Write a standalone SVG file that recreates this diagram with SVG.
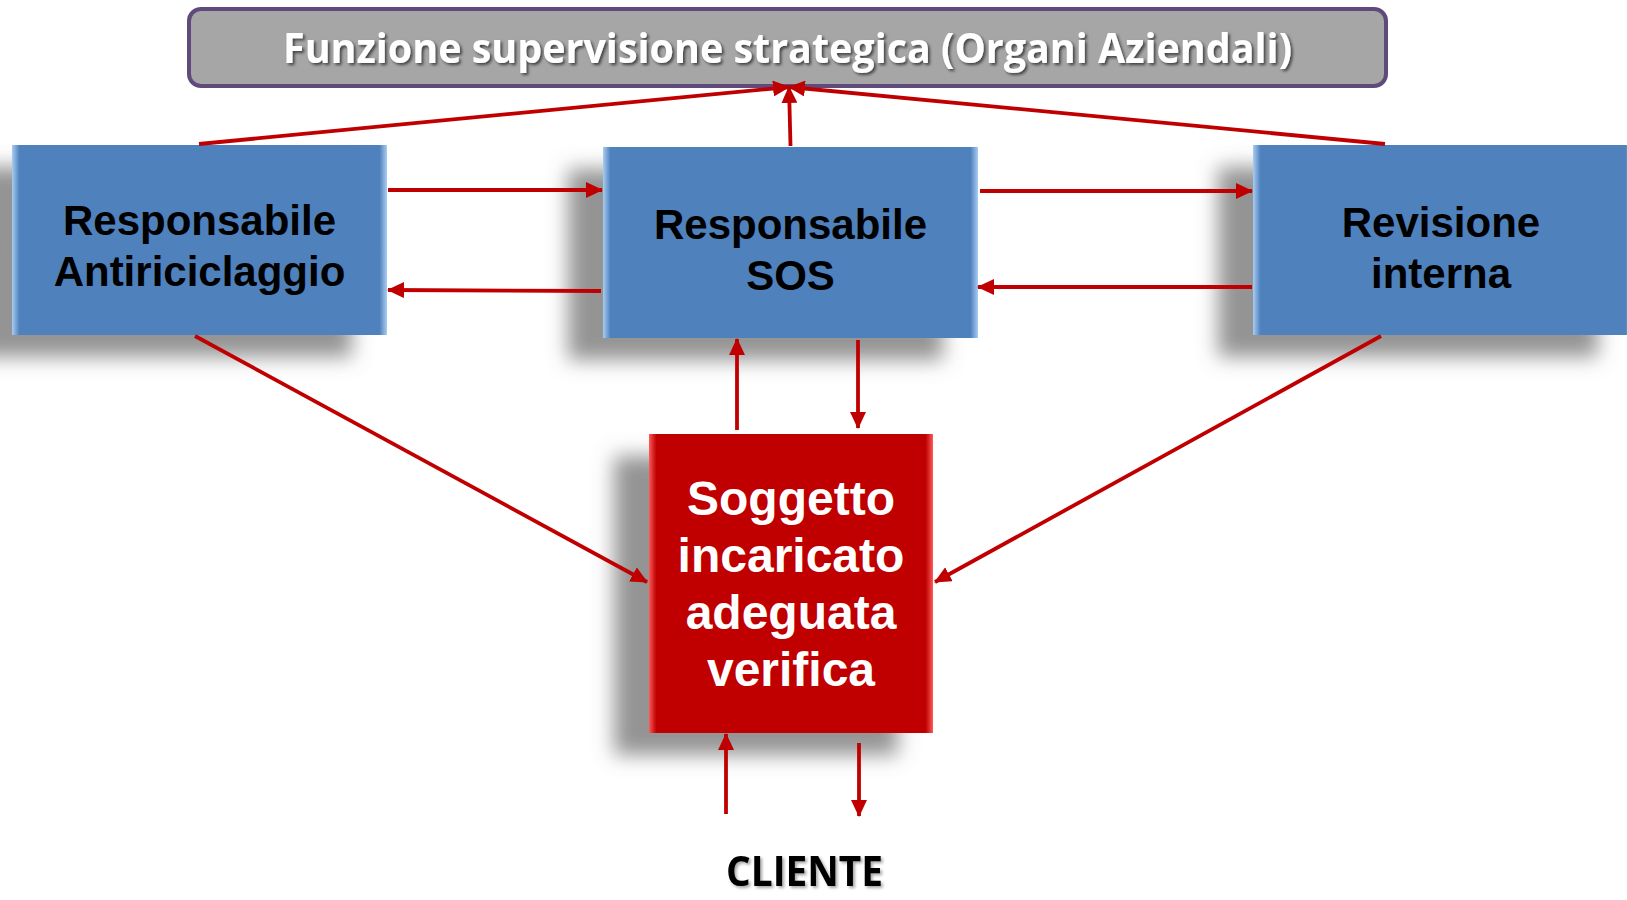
<svg xmlns="http://www.w3.org/2000/svg" width="1627" height="900" viewBox="0 0 1627 900">
  <style>
    .conn { stroke: #c00000; stroke-width: 3.8; fill: none; marker-end: url(#arrow); }
    .blue { fill: url(#blueGrad); filter: url(#boxShadow); }
    .red { fill: url(#redGrad); filter: url(#boxShadow); }
    .lbl { font-family: "Liberation Sans", Arial, sans-serif; font-weight: bold; font-size: 42px; text-anchor: middle; fill: #000; }
    .lblw { font-family: "Liberation Sans", Arial, sans-serif; font-weight: bold; font-size: 48px; text-anchor: middle; fill: #fff; }
    .cal { font-family: "Open Sans", "Liberation Sans", sans-serif; font-weight: bold; text-anchor: middle; }
  </style>
  <defs>
    <marker id="arrow" markerUnits="userSpaceOnUse" markerWidth="17" markerHeight="16" refX="16" refY="8" orient="auto">
      <path d="M0,0 L17,8 L0,16 z" fill="#c00000"/>
    </marker>
    <linearGradient id="blueGrad" x1="0" y1="0" x2="1" y2="0">
      <stop offset="0" stop-color="#a8cdf2"/>
      <stop offset="0.02" stop-color="#4f81bd"/>
      <stop offset="0.98" stop-color="#4f81bd"/>
      <stop offset="1" stop-color="#a8cdf2"/>
    </linearGradient>
    <linearGradient id="redGrad" x1="0" y1="0" x2="1" y2="0">
      <stop offset="0" stop-color="#ff5a5a"/>
      <stop offset="0.025" stop-color="#c00000"/>
      <stop offset="0.975" stop-color="#c00000"/>
      <stop offset="1" stop-color="#ff5a5a"/>
    </linearGradient>
    <filter id="boxShadow" x="-30%" y="-20%" width="160%" height="160%">
      <feOffset in="SourceAlpha" dx="-35" dy="22" result="off"/>
      <feGaussianBlur in="off" stdDeviation="10" result="blur"/>
      <feFlood flood-color="#707070" flood-opacity="0.75"/>
      <feComposite in2="blur" operator="in" result="sh"/>
      <feMerge>
        <feMergeNode in="sh"/>
        <feMergeNode in="SourceGraphic"/>
      </feMerge>
    </filter>
    <filter id="textShadow" x="-5%" y="-30%" width="110%" height="160%">
      <feDropShadow dx="2" dy="2" stdDeviation="1.5" flood-color="#000" flood-opacity="0.6"/>
    </filter>
    <filter id="textShadowGray" x="-10%" y="-30%" width="120%" height="160%">
      <feDropShadow dx="2" dy="2" stdDeviation="1.5" flood-color="#000" flood-opacity="0.35"/>
    </filter>
  </defs>

  <rect width="1627" height="900" fill="#ffffff"/>

  <g id="node-supervisione">
    <rect x="189" y="9" width="1197" height="77" rx="12" ry="12" fill="#a6a6a6" stroke="#604a7b" stroke-width="4"/>
    <text class="cal" x="787.5" y="63" font-size="42" fill="#ffffff" textLength="1009" lengthAdjust="spacingAndGlyphs" filter="url(#textShadow)">Funzione supervisione strategica (Organi Aziendali)</text>
  </g>

  <g id="node-antiriciclaggio">
    <rect class="blue" x="12" y="145" width="375" height="190"/>
    <text class="lbl" x="199.5" y="235">Responsabile</text>
    <text class="lbl" x="199.5" y="286">Antiriciclaggio</text>
  </g>

  <g id="node-sos">
    <rect class="blue" x="603" y="147" width="375" height="191"/>
    <text class="lbl" x="790.5" y="239">Responsabile</text>
    <text class="lbl" x="790.5" y="290">SOS</text>
  </g>

  <g id="node-revisione">
    <rect class="blue" x="1253" y="145" width="380" height="190"/>
    <text class="lbl" x="1441" y="237">Revisione</text>
    <text class="lbl" x="1441" y="288">interna</text>
  </g>

  <g id="node-soggetto">
    <rect class="red" x="649" y="434" width="284" height="299"/>
    <text class="lblw" x="791" y="515">Soggetto</text>
    <text class="lblw" x="791" y="572">incaricato</text>
    <text class="lblw" x="791" y="629">adeguata</text>
    <text class="lblw" x="791" y="686">verifica</text>
  </g>

  <g id="node-cliente">
    <text class="cal" x="804.5" y="886" font-size="42" fill="#000000" textLength="157" lengthAdjust="spacingAndGlyphs" filter="url(#textShadowGray)">CLIENTE</text>
  </g>

  <g id="connectors">
    <line class="conn" x1="199" y1="144" x2="789" y2="87"/>
    <line class="conn" x1="790.5" y1="146" x2="789" y2="87"/>
    <line class="conn" x1="1385" y1="144" x2="789" y2="87"/>
    <line class="conn" x1="388" y1="190" x2="602" y2="190"/>
    <line class="conn" x1="601" y1="291" x2="388" y2="290"/>
    <line class="conn" x1="980" y1="191" x2="1252" y2="191"/>
    <line class="conn" x1="1252" y1="287" x2="978" y2="287"/>
    <line class="conn" x1="195" y1="336" x2="647" y2="582"/>
    <line class="conn" x1="1381" y1="336" x2="935" y2="582"/>
    <line class="conn" x1="737" y1="430" x2="737" y2="339"/>
    <line class="conn" x1="858" y1="340" x2="858" y2="428"/>
    <line class="conn" x1="726" y1="814" x2="726" y2="734"/>
    <line class="conn" x1="859" y1="743" x2="859" y2="816"/>
  </g>
</svg>
